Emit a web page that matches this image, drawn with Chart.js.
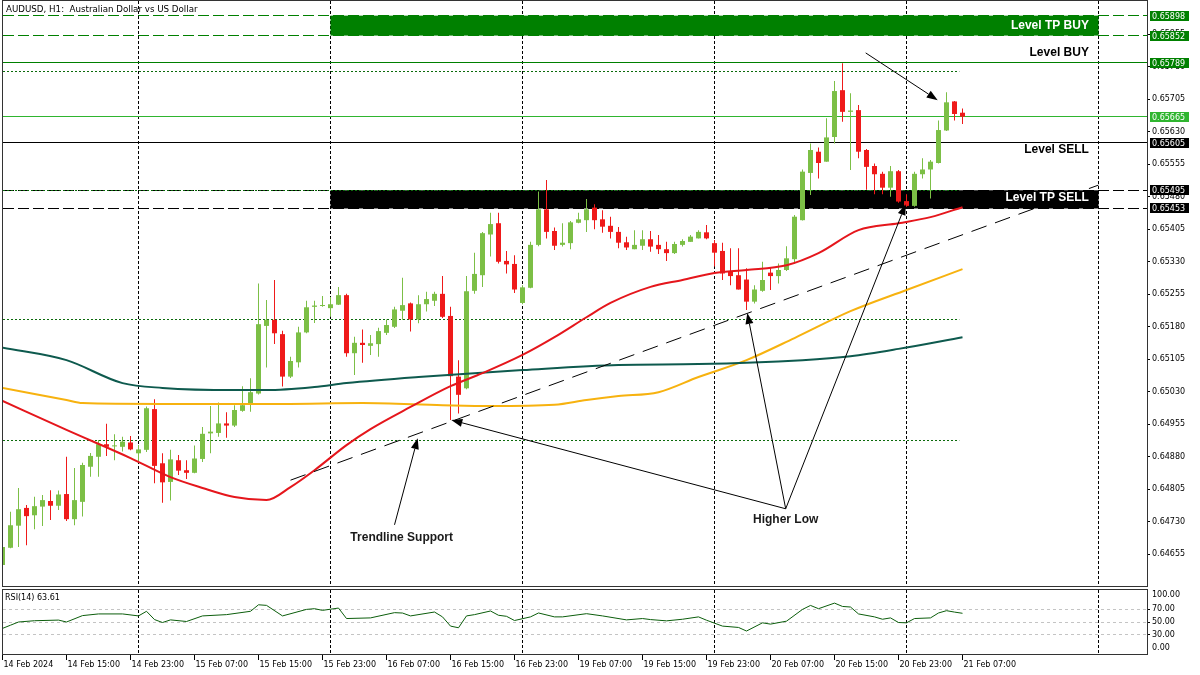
<!DOCTYPE html>
<html>
<head>
<meta charset="utf-8">
<title>AUDUSD H1</title>
<script src="https://cdn.jsdelivr.net/npm/chart.js@4.4.1/dist/chart.umd.min.js"></script>
<style>
  body { margin: 0; background: #fff; }
  #wrap { position: relative; width: 1200px; height: 675px; background: #fff; }
  #wrap canvas { position: absolute; left: 0; }
</style>
</head>
<body>
<div id="wrap">
  <canvas id="main" width="1200" height="588" style="top:0"></canvas>
  <canvas id="rsi" width="1200" height="87" style="top:588px"></canvas>
</div>
<script>
// DATA - AUDUSD H1, bar 0 = 14 Feb 07:00 ... bar 120 = 21 Feb 07:00
const open = [
  0.64630,0.64670,0.64721,0.64762,0.64745,0.64765,0.64778,0.64767,0.64794,0.64736,
  0.64776,0.64857,0.64880,0.64909,0.64904,0.64903,0.64913,0.64888,0.64896,0.64990,
  0.64865,0.64822,0.64872,0.64849,0.64843,0.64875,0.64934,0.64935,0.64957,0.64952,
  0.64986,0.65002,0.65026,0.65182,0.65196,0.65163,0.65065,0.65098,0.65167,0.65226,
  0.65228,0.65223,0.65231,0.65253,0.65119,0.65143,0.65136,0.65140,0.65166,0.65180,
  0.65217,0.65234,0.65197,0.65232,0.65240,0.65256,0.65205,0.65065,0.65038,0.65263,
  0.65299,0.65393,0.65419,0.65332,0.65325,0.65235,0.65270,0.65369,0.65451,0.65401,
  0.65369,0.65373,0.65420,0.65426,0.65455,0.65428,0.65413,0.65399,0.65375,0.65359,
  0.65367,0.65382,0.65369,0.65359,0.65350,0.65369,0.65376,0.65384,0.65398,0.65373,
  0.65355,0.65307,0.65299,0.65289,0.65238,0.65263,0.65305,0.65297,0.65311,0.65336,
  0.65426,0.65535,0.65584,0.65561,0.65618,0.65726,0.65676,0.65680,0.65588,0.65551,
  0.65533,0.65501,0.65539,0.65470,0.65459,0.65532,0.65543,0.65558,0.65633,0.65700,
  0.65674];
const high = [
  0.64679,0.64753,0.64808,0.64769,0.64788,0.64792,0.64803,0.64802,0.64880,0.64854,
  0.64866,0.64889,0.64919,0.64956,0.64932,0.64926,0.64928,0.64907,0.64996,0.65013,
  0.64888,0.64896,0.64884,0.64872,0.64906,0.64949,0.64997,0.65005,0.64983,0.64999,
  0.65043,0.65061,0.65280,0.65242,0.65288,0.65171,0.65111,0.65180,0.65240,0.65240,
  0.65251,0.65249,0.65272,0.65256,0.65157,0.65174,0.65161,0.65178,0.65197,0.65226,
  0.65293,0.65236,0.65253,0.65261,0.65261,0.65297,0.65226,0.65103,0.65297,0.65351,
  0.65399,0.65443,0.65443,0.65355,0.65345,0.65276,0.65376,0.65492,0.65519,0.65409,
  0.65419,0.65424,0.65443,0.65475,0.65463,0.65449,0.65434,0.65410,0.65388,0.65403,
  0.65403,0.65401,0.65392,0.65376,0.65376,0.65382,0.65392,0.65403,0.65415,0.65380,
  0.65374,0.65361,0.65361,0.65315,0.65276,0.65330,0.65318,0.65326,0.65366,0.65438,
  0.65543,0.65603,0.65594,0.65661,0.65747,0.65788,0.65719,0.65692,0.65590,0.65557,
  0.65538,0.65551,0.65542,0.65486,0.65538,0.65569,0.65565,0.65656,0.65721,0.65701,
  0.65684];
const low = [
  0.64626,0.64669,0.64672,0.64676,0.64713,0.64720,0.64734,0.64757,0.64732,0.64722,
  0.64742,0.64834,0.64834,0.64882,0.64872,0.64892,0.64895,0.64869,0.64891,0.64819,
  0.64774,0.64779,0.64838,0.64829,0.64842,0.64868,0.64888,0.64926,0.64924,0.64949,
  0.64984,0.64984,0.65024,0.65086,0.65140,0.65042,0.65062,0.65086,0.65165,0.65189,
  0.65226,0.65203,0.65230,0.65111,0.65069,0.65097,0.65115,0.65111,0.65161,0.65177,
  0.65196,0.65169,0.65188,0.65215,0.65228,0.65200,0.64965,0.64980,0.65036,0.65256,
  0.65272,0.65342,0.65326,0.65303,0.65258,0.65232,0.65269,0.65366,0.65384,0.65357,
  0.65365,0.65359,0.65419,0.65399,0.65405,0.65397,0.65384,0.65361,0.65357,0.65359,
  0.65357,0.65353,0.65348,0.65332,0.65348,0.65365,0.65376,0.65384,0.65382,0.65319,
  0.65288,0.65276,0.65266,0.65219,0.65234,0.65261,0.65265,0.65280,0.65309,0.65326,
  0.65425,0.65484,0.65522,0.65561,0.65603,0.65653,0.65542,0.65569,0.65496,0.65486,
  0.65486,0.65480,0.65466,0.65457,0.65457,0.65522,0.65476,0.65557,0.65632,0.65656,
  0.65648];
const close = [
  0.64672,0.64722,0.64759,0.64743,0.64766,0.64780,0.64767,0.64793,0.64736,0.64780,
  0.64861,0.64882,0.64909,0.64903,0.64906,0.64915,0.64897,0.64897,0.64992,0.64859,
  0.64821,0.64874,0.64848,0.64843,0.64876,0.64933,0.64938,0.64957,0.64952,0.64988,
  0.64999,0.65029,0.65186,0.65196,0.65165,0.65065,0.65101,0.65167,0.65225,0.65229,
  0.65229,0.65232,0.65253,0.65119,0.65143,0.65138,0.65142,0.65170,0.65184,0.65220,
  0.65230,0.65197,0.65232,0.65244,0.65256,0.65203,0.65066,0.65023,0.65262,0.65302,
  0.65396,0.65417,0.65330,0.65324,0.65266,0.65271,0.65369,0.65451,0.65399,0.65367,
  0.65374,0.65421,0.65428,0.65451,0.65426,0.65411,0.65399,0.65374,0.65363,0.65369,
  0.65382,0.65365,0.65359,0.65350,0.65371,0.65378,0.65388,0.65399,0.65384,0.65351,
  0.65303,0.65297,0.65266,0.65238,0.65266,0.65288,0.65297,0.65311,0.65338,0.65434,
  0.65538,0.65588,0.65558,0.65617,0.65724,0.65676,0.65679,0.65584,0.65549,0.65532,
  0.65501,0.65539,0.65469,0.65459,0.65533,0.65543,0.65561,0.65634,0.65698,0.65671,
  0.65665];

// moving averages, read at sample bars
const maRedBars = [0,8,16,21,25,29,33,36,39,43,46,51,56,60,65,69,73,76,81,85,89,93,98,102,107,112,116,120];
const maRedVals = [0.65009,0.64942,0.64877,0.64833,0.64808,0.64787,0.64780,0.64810,0.64849,0.64907,0.64944,0.64995,0.65043,0.65073,0.65115,0.65156,0.65202,0.65235,0.65272,0.65288,0.65304,0.65311,0.65322,0.65350,0.65403,0.65419,0.65433,0.65456];
const maGoldBars = [0,8,10,20,35,45,55,61,69,73,77,82,87,93,99,106,113,120];
const maGoldVals = [0.65039,0.65011,0.65004,0.65002,0.65002,0.65004,0.64999,0.64997,0.65000,0.65011,0.65020,0.65029,0.65064,0.65103,0.65154,0.65216,0.65265,0.65313];
const maTealBars = [0,8,15,20,29,33,39,43,52,65,77,87,100,106,112,120];
const maTealVals = [0.65132,0.65103,0.65050,0.65039,0.65034,0.65034,0.65041,0.65050,0.65064,0.65080,0.65092,0.65094,0.65103,0.65112,0.65129,0.65156];

// RSI(14)
const rsiBars = [0,1,2,4,7,8,10,12,15,17,18,19,20,21,23,25,28,31,32,33,35,38,39,40,42,43,46,49,50,51,54,55,56,57,58,59,61,62,63,64,66,67,69,70,73,75,78,80,81,83,85,87,88,90,92,93,95,96,98,100,101,102,104,105,106,107,109,110,111,112,113,114,116,117,118,119,120];
const rsiVals = [40,45,50,52,53,50,60,62.6,62.6,59.5,66.7,53.8,49.2,53.3,50.8,59.5,61.5,66.7,76.9,76,59.5,69.7,70.8,68.2,71.8,55.4,56.4,64.6,64,59.5,65.6,58,43.6,41,59.5,61.5,67.2,60.5,58.9,52.3,58,64.1,58,58,63,59.5,53.3,55.4,53.8,51.8,54.3,58,52.8,43.6,41.5,35.9,48.7,46.7,51.3,69.7,75.9,70.8,79.5,74.3,73.4,62.6,58,54.3,56.4,49.2,48.7,55.4,56.4,64.1,67.7,65.5,63.61];

// axes
const tickBars = [0,8,16,24,32,40,48,56,64,72,80,88,96,104,112,120];
const tickLabels = ['14 Feb 2024','14 Feb 15:00','14 Feb 23:00','15 Feb 07:00','15 Feb 15:00','15 Feb 23:00',
  '16 Feb 07:00','16 Feb 15:00','16 Feb 23:00','19 Feb 07:00','19 Feb 15:00','19 Feb 23:00',
  '20 Feb 07:00','20 Feb 15:00','20 Feb 23:00','21 Feb 07:00'];
const dayBreaks = [17,41,65,89,113,137];
const priceTicks = [0.64655,0.64730,0.64805,0.64880,0.64955,0.65030,0.65105,0.65180,0.65255,
  0.65330,0.65405,0.65480,0.65555,0.65630,0.65705,0.65780,0.65855];
const rsiTicks = [30,50,70];

// levels drawn on the chart
const levelPrices = [0.65898, 0.65852, 0.65789, 0.65665, 0.65605, 0.65495, 0.65453];
const supportLevels = [0.65770, 0.65495, 0.65197, 0.64918];
const tpBuyZone = [0.65852, 0.65898];
const tpSellZone = [0.65453, 0.65495];
const zoneBars = [41, 137];
const trendFrom = [36, 0.64826];
const trendTo = [137, 0.65507];
const arrowFrom = [[49.0, 0.64723], [97.9, 0.64760], [97.9, 0.64760], [97.9, 0.64760], [107.9, 0.65812]];
const arrowTo = [[51.9, 0.64923], [56.1, 0.64965], [93.1, 0.65212], [112.9, 0.65463], [116.9, 0.65703]];
const noteTexts = ['Trendline Support', 'Higher Low'];
const notePos = [[49.9, 0.64693], [97.9, 0.64734]];
const levelTexts = ['Level TP BUY', 'Level BUY', 'Level SELL', 'Level TP SELL'];
const levelTextPrices = [0.65874, 0.65812, 0.65588, 0.65478];

// LOOK
const X_MIN = 0.0625, X_MAX = 143.0625;
const Y_MIN = 0.645818, Y_MAX = 0.659318;
const UP = '#7cbf46', DOWN = '#ef1a1a';
const levelColors = ['#008000', '#008000', '#008000', '#2fb52f', '#000000', '#000000', '#000000'];
const levelDashed = [true, true, false, false, false, true, true];
const levelTextColors = ['#ffffff', '#000000', '#000000', '#ffffff'];
const AXIS_FONT = '8px "DejaVu Sans"';

Chart.defaults.font.family = 'DejaVu Sans';

const bars = open.map((v, i) => i);
const candleColors = bars.map(i => close[i] >= open[i] ? UP : DOWN);

function hline(ctx, x1, x2, y) {
  ctx.beginPath(); ctx.moveTo(x1, y); ctx.lineTo(x2, y); ctx.stroke();
}
function vline(ctx, x, y1, y2) {
  ctx.beginPath(); ctx.moveTo(x, y1); ctx.lineTo(x, y2); ctx.stroke();
}
function crisp(v) { return Math.floor(v) + 0.5; }

// no label overflow padding: chart area is fixed by layout.padding
function fitAxis(s, w, h) {
  if (w) s.width = w;
  if (h) s.height = h;
  s.paddingTop = 0; s.paddingBottom = 0; s.paddingLeft = 0; s.paddingRight = 0;
}

function drawArrow(ctx, x1, y1, x2, y2) {
  const ang = Math.atan2(y2 - y1, x2 - x1);
  const len = 11, hw = 4;
  const bx = x2 - len * Math.cos(ang), by = y2 - len * Math.sin(ang);
  ctx.beginPath(); ctx.moveTo(x1, y1); ctx.lineTo(bx, by); ctx.stroke();
  ctx.beginPath();
  ctx.moveTo(x2, y2);
  ctx.lineTo(bx + hw * Math.sin(ang), by - hw * Math.cos(ang));
  ctx.lineTo(bx - hw * Math.sin(ang), by + hw * Math.cos(ang));
  ctx.closePath(); ctx.fill();
}

function drawFrame(ctx, a) {
  ctx.save();
  ctx.strokeStyle = '#333'; ctx.lineWidth = 1; ctx.setLineDash([]);
  ctx.strokeRect(a.left - 0.5, a.top - 0.5, a.right - a.left + 1, a.bottom - a.top + 1);
  ctx.restore();
}

// MAIN PANE OVERLAY
const mainOverlay = {
  id: 'mainOverlay',
  beforeDatasetsDraw(chart) {
    const { ctx, chartArea: a, scales: { x, y } } = chart;
    ctx.save();
    ctx.beginPath(); ctx.rect(a.left, a.top, a.right - a.left, a.bottom - a.top); ctx.clip();
    ctx.lineWidth = 1;

    // day separators
    ctx.strokeStyle = '#000'; ctx.setLineDash([3, 2]);
    dayBreaks.forEach(b => vline(ctx, crisp(x.getPixelForValue(b)), a.top, a.bottom));

    // TP zones
    const zx1 = x.getPixelForValue(zoneBars[0]), zx2 = x.getPixelForValue(zoneBars[1]);
    ctx.fillStyle = '#008000';
    ctx.fillRect(zx1, y.getPixelForValue(tpBuyZone[1]), zx2 - zx1, y.getPixelForValue(tpBuyZone[0]) - y.getPixelForValue(tpBuyZone[1]));
    ctx.fillStyle = '#000';
    ctx.fillRect(zx1, y.getPixelForValue(tpSellZone[1]), zx2 - zx1, y.getPixelForValue(tpSellZone[0]) - y.getPixelForValue(tpSellZone[1]));

    // level lines
    levelPrices.forEach((p, k) => {
      ctx.strokeStyle = levelColors[k];
      ctx.setLineDash(levelDashed[k] ? [11, 4] : []);
      hline(ctx, a.left, a.right, crisp(y.getPixelForValue(p)));
    });

    // support / resistance dotted lines
    ctx.strokeStyle = '#0b6b0b'; ctx.setLineDash([2, 2]);
    supportLevels.forEach(p => hline(ctx, a.left, x.getPixelForValue(119.6), crisp(y.getPixelForValue(p))));
    ctx.restore();
  },
  afterDatasetsDraw(chart) {
    const { ctx, chartArea: a, scales: { x, y } } = chart;
    ctx.save();
    ctx.beginPath(); ctx.rect(a.left, a.top, a.right - a.left, a.bottom - a.top); ctx.clip();

    // trendline
    ctx.strokeStyle = '#000'; ctx.lineWidth = 1; ctx.setLineDash([16, 9]);
    ctx.beginPath();
    ctx.moveTo(x.getPixelForValue(trendFrom[0]), y.getPixelForValue(trendFrom[1]));
    ctx.lineTo(x.getPixelForValue(trendTo[0]), y.getPixelForValue(trendTo[1]));
    ctx.stroke();

    // arrows
    ctx.setLineDash([]); ctx.fillStyle = '#000';
    arrowFrom.forEach((f, k) => {
      const t = arrowTo[k];
      drawArrow(ctx, x.getPixelForValue(f[0]), y.getPixelForValue(f[1]), x.getPixelForValue(t[0]), y.getPixelForValue(t[1]));
    });

    // notes
    ctx.font = 'bold 12px "Liberation Sans"';
    ctx.textBaseline = 'middle';
    ctx.textAlign = 'center'; ctx.fillStyle = '#1a1a1a';
    noteTexts.forEach((t, k) => ctx.fillText(t, x.getPixelForValue(notePos[k][0]), y.getPixelForValue(notePos[k][1])));

    ctx.textAlign = 'right';
    levelTexts.forEach((t, k) => {
      ctx.fillStyle = levelTextColors[k];
      ctx.fillText(t, x.getPixelForValue(135.8), y.getPixelForValue(levelTextPrices[k]));
    });
    ctx.restore();
  },
  afterDraw(chart) {
    const { ctx, chartArea: a, scales: { y } } = chart;
    drawFrame(ctx, a);
    ctx.save();
    // price boxes on the axis
    ctx.font = AXIS_FONT; ctx.textBaseline = 'middle'; ctx.textAlign = 'left';
    levelPrices.forEach((p, k) => {
      const py = Math.round(y.getPixelForValue(p));
      ctx.fillStyle = levelColors[k];
      ctx.fillRect(a.right + 3, py - 5, 39, 10);
      ctx.fillStyle = '#fff';
      ctx.fillText(p.toFixed(5), a.right + 5, py + 0.5);
    });
    // title
    ctx.fillStyle = '#000';
    ctx.font = '8.7px "DejaVu Sans"';
    ctx.fillText('AUDUSD, H1:  Australian Dollar vs US Dollar', 6, 10);
    ctx.restore();
  }
};

new Chart(document.getElementById('main'), {
  type: 'bar',
  data: {
    datasets: [
      {
        label: 'wicks',
        data: bars.map(i => ({ x: i, y: [low[i], high[i]] })),
        backgroundColor: candleColors,
        barThickness: 1, maxBarThickness: 1, grouped: false, inflateAmount: 0, order: 3
      },
      {
        label: 'bodies',
        data: bars.map(i => ({ x: i, y: [open[i], close[i]] })),
        backgroundColor: candleColors,
        barThickness: 5, maxBarThickness: 5, minBarLength: 1, grouped: false, inflateAmount: 0, order: 2
      },
      {
        type: 'line', label: 'MA teal',
        data: maTealBars.map((b, k) => ({ x: b, y: maTealVals[k] })),
        borderColor: '#0e5a4e', borderWidth: 2, pointRadius: 0, cubicInterpolationMode: 'monotone', order: 1
      },
      {
        type: 'line', label: 'MA gold',
        data: maGoldBars.map((b, k) => ({ x: b, y: maGoldVals[k] })),
        borderColor: '#f7b20f', borderWidth: 2, pointRadius: 0, cubicInterpolationMode: 'monotone', order: 1
      },
      {
        type: 'line', label: 'MA red',
        data: maRedBars.map((b, k) => ({ x: b, y: maRedVals[k] })),
        borderColor: '#e5161c', borderWidth: 2, pointRadius: 0, cubicInterpolationMode: 'monotone', order: 0
      }
    ]
  },
  options: {
    responsive: false, animation: false, devicePixelRatio: 1,
    layout: { padding: { left: 3, top: 1, right: 0, bottom: 2 }, autoPadding: false },
    plugins: { legend: { display: false }, tooltip: { enabled: false } },
    scales: {
      x: { type: 'linear', min: X_MIN, max: X_MAX, display: false, offset: false },
      y: {
        position: 'right', min: Y_MIN, max: Y_MAX, beginAtZero: false,
        afterBuildTicks: s => { s.ticks = priceTicks.map(v => ({ value: v })); },
        afterFit: s => fitAxis(s, 53, 0),
        grid: { drawOnChartArea: false, drawTicks: true, tickLength: 3, color: '#000' },
        border: { display: false },
        ticks: { padding: 2, color: '#000', font: { family: 'DejaVu Sans', size: 8 }, callback: v => v.toFixed(5) }
      }
    }
  },
  plugins: [mainOverlay]
});

// RSI PANE OVERLAY
const rsiOverlay = {
  id: 'rsiOverlay',
  beforeDatasetsDraw(chart) {
    const { ctx, chartArea: a, scales: { x, y } } = chart;
    ctx.save();
    ctx.lineWidth = 1;
    ctx.strokeStyle = '#c4c4c4'; ctx.setLineDash([3, 3]);
    rsiTicks.forEach(v => hline(ctx, a.left, a.right, crisp(y.getPixelForValue(v))));
    ctx.strokeStyle = '#000'; ctx.setLineDash([3, 2]);
    dayBreaks.forEach(b => vline(ctx, crisp(x.getPixelForValue(b)), a.top, a.bottom));
    ctx.restore();
  },
  afterDraw(chart) {
    const { ctx, chartArea: a } = chart;
    drawFrame(ctx, a);
    ctx.save();
    ctx.font = AXIS_FONT; ctx.fillStyle = '#000'; ctx.textBaseline = 'middle'; ctx.textAlign = 'left';
    ctx.fillText('100.00', a.right + 5, a.top + 5);
    ctx.fillText('0.00', a.right + 5, a.bottom - 6);
    ctx.fillText('RSI(14) ' + rsiVals[rsiVals.length - 1].toFixed(2), 5, a.top + 8);
    ctx.restore();
  }
};

new Chart(document.getElementById('rsi'), {
  type: 'line',
  data: {
    datasets: [{
      label: 'RSI(14)',
      data: rsiBars.map((b, k) => ({ x: b, y: rsiVals[k] })),
      borderColor: '#0b5d0b', borderWidth: 1, pointRadius: 0, tension: 0
    }]
  },
  options: {
    responsive: false, animation: false, devicePixelRatio: 1,
    layout: { padding: { left: 3, top: 2, right: 0, bottom: 0 }, autoPadding: false },
    plugins: { legend: { display: false }, tooltip: { enabled: false } },
    scales: {
      x: {
        type: 'linear', min: X_MIN, max: X_MAX, position: 'bottom', offset: false,
        afterBuildTicks: s => { s.ticks = tickBars.map(v => ({ value: v })); },
        afterFit: s => fitAxis(s, 0, 21),
        grid: { drawOnChartArea: false, drawTicks: true, tickLength: 6, color: '#000' },
        border: { display: false },
        ticks: {
          autoSkip: false, maxRotation: 0, minRotation: 0, align: 'start', labelOffset: 1, padding: 0,
          color: '#000', font: { family: 'DejaVu Sans', size: 8 },
          callback: v => tickLabels[tickBars.indexOf(v)]
        }
      },
      y: {
        position: 'right', min: 0, max: 100,
        afterBuildTicks: s => { s.ticks = rsiTicks.map(v => ({ value: v })); },
        afterFit: s => fitAxis(s, 53, 0),
        grid: { drawOnChartArea: false, drawTicks: true, tickLength: 3, color: '#000' },
        border: { display: false },
        ticks: { padding: 2, color: '#000', font: { family: 'DejaVu Sans', size: 8 }, callback: v => v.toFixed(2) }
      }
    }
  },
  plugins: [rsiOverlay]
});
</script>
</body>
</html>
